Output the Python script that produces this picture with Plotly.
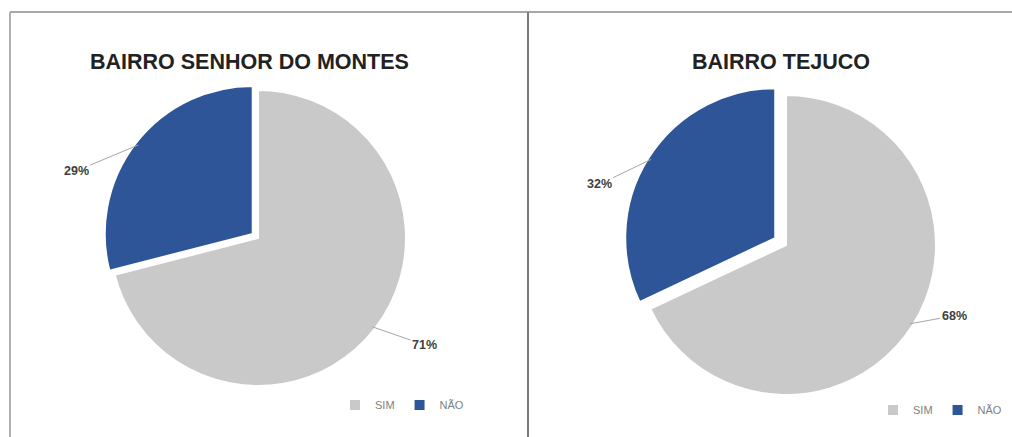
import math
import plotly.graph_objects as go

W, H = 1012, 437

labels = ["SIM", "NÃO"]
left_values = [71, 29]
right_values = [68, 32]
titles = ["BAIRRO SENHOR DO MONTES", "BAIRRO TEJUCO"]
colors = ["#C9C9C9", "#2E5597"]

# layout geometry (pixels): pie centre, radius, pull of NÃO slice
pies = [
    dict(values=left_values, cx=258, cy=238, r=148, pull=0.045, legend="legend", group="left",
         offsets=[(52, 18), (-62, 26)], title_x=249),
    dict(values=right_values, cx=786, cy=245, r=150, pull=0.085, legend="legend2", group="right",
         offsets=[(44, -8), (-52, 25)], title_x=781),
]

fig = go.Figure()
annotations = []

for i, p in enumerate(pies):
    size = 2 * p["r"] * (1 + p["pull"])
    x0, x1 = (p["cx"] - size / 2) / W, (p["cx"] + size / 2) / W
    y0, y1 = (H - p["cy"] - size / 2) / H, (H - p["cy"] + size / 2) / H
    fig.add_trace(go.Pie(
        labels=labels, values=p["values"], sort=False, direction="clockwise",
        rotation=0, pull=[0, p["pull"]],
        marker=dict(colors=colors, line=dict(color="white", width=2)),
        textinfo="none", hoverinfo="label+percent",
        domain=dict(x=[x0, x1], y=[y0, y1]),
        legend=p["legend"], legendgroup=p["group"], showlegend=True,
    ))
    total = sum(p["values"])
    cum = 0
    for j, v in enumerate(p["values"]):
        mid = (cum + v / 2) / total * 2 * math.pi
        cum += v
        pr = p["pull"] * p["r"] if j == 1 else 0
        rr = p["r"] * 0.98 + pr
        tx = p["cx"] + rr * math.sin(mid)
        ty = p["cy"] - rr * math.cos(mid)
        ax, ay = p["offsets"][j]
        annotations.append(dict(
            x=tx / W, y=1 - ty / H, xref="paper", yref="paper",
            text="<b>%d%%</b>" % round(v / total * 100),
            showarrow=True, arrowhead=0, arrowwidth=1, arrowcolor="#A6A6A6",
            ax=ax, ay=ay, standoff=0,
            font=dict(family="Liberation Sans, Arial", size=12.5, color="#404040"),
        ))
    annotations.append(dict(
        x=p["title_x"] / W, y=1 - 62 / H, xref="paper", yref="paper",
        xanchor="center", yanchor="middle", showarrow=False,
        text="<b>%s</b>" % titles[i],
        font=dict(family="Liberation Sans, Arial", size=21.5, color="#222222"),
    ))

legend_style = dict(orientation="h", xanchor="center", yanchor="middle",
                    font=dict(family="Liberation Sans, Arial", size=11, color="#808080"),
                    bgcolor="rgba(0,0,0,0)", itemclick=False, itemdoubleclick=False,
                    itemwidth=30, traceorder="normal")

fig.update_layout(
    width=W, height=H, margin=dict(l=0, r=0, t=0, b=0),
    paper_bgcolor="white", plot_bgcolor="white",
    annotations=annotations,
    legend=dict(x=402 / W, y=1 - 405 / H, **legend_style),
    legend2=dict(x=940 / W, y=1 - 410 / H, **legend_style),
    shapes=[
        dict(type="line", xref="paper", yref="paper", x0=10 / W, x1=1, y0=1 - 12 / H, y1=1 - 12 / H,
             line=dict(color="#A8A8A8", width=2)),
        dict(type="line", xref="paper", yref="paper", x0=10 / W, x1=10 / W, y0=0, y1=1 - 12 / H,
             line=dict(color="#B0B0B0", width=2)),
        dict(type="line", xref="paper", yref="paper", x0=528 / W, x1=528 / W, y0=0, y1=1 - 12 / H,
             line=dict(color="#7A7A7A", width=2)),
    ],
)

fig.write_html("out.html")
